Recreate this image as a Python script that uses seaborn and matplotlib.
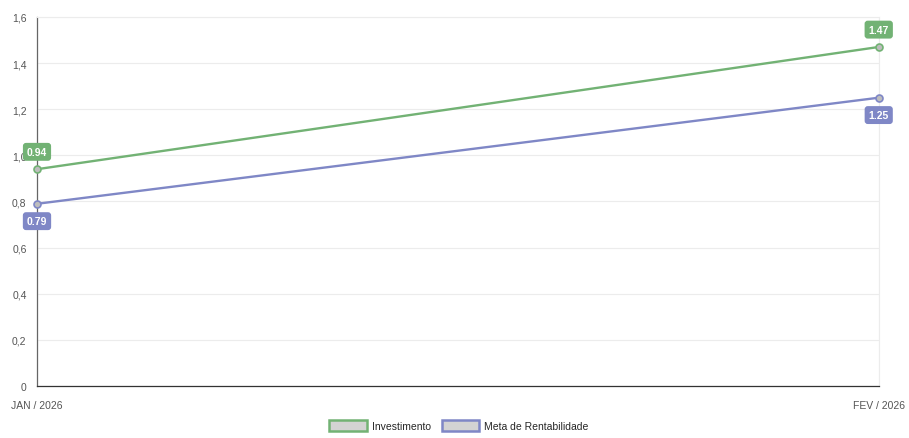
import pandas as pd
import seaborn as sns
import matplotlib.pyplot as plt
from matplotlib.patches import Patch

# -----------------------------
# Data
# -----------------------------
months = ["JAN / 2026", "FEV / 2026"]
investimento = [0.94, 1.47]
meta_rentabilidade = [0.79, 1.25]
y_ticks = [0, 0.2, 0.4, 0.6, 0.8, 1.0, 1.2, 1.4, 1.6]

series_names = ["Investimento", "Meta de Rentabilidade"]
colors = {"Investimento": "#72b274", "Meta de Rentabilidade": "#7f87c6"}

df = pd.DataFrame({
    "pos": list(range(len(months))) * 2,
    "month": months * 2,
    "value": investimento + meta_rentabilidade,
    "serie": [series_names[0]] * len(months) + [series_names[1]] * len(months),
})

# -----------------------------
# Plot
# -----------------------------
sns.set_style("white")
plt.rcParams["font.family"] = ["Liberation Sans", "DejaVu Sans"]

fig = plt.figure(figsize=(9.09, 4.39), dpi=100)
ax = fig.add_axes([0.0407, 0.1185, 0.926, 0.8405])

sns.lineplot(data=df, x="pos", y="value", hue="serie", palette=colors,
             linewidth=1.7, marker="o", markersize=5, markerfacecolor="#bdbdbd",
             markeredgewidth=1.2, legend=False, ax=ax)
# marker edge colour per series, do not clip markers at the edges
for line, name in zip(ax.get_lines(), series_names):
    line.set_markeredgecolor(colors[name])
    line.set_clip_on(False)
    line.set_zorder(5)

ax.set_xlim(0, len(months) - 1)
ax.set_ylim(0, 1.6)
ax.set_yticks(y_ticks)
ax.set_yticklabels([f"{t:.1f}".replace(".", ",") if t else "0" for t in y_ticks])
ax.set_xticks(range(len(months)))
ax.set_xticklabels(months)
ax.set_xlabel("")
ax.set_ylabel("")

ax.grid(True, color="#ececec", linewidth=0.8)
ax.tick_params(axis="both", labelsize=7.5, colors="#555555", length=4, width=0.8)
ax.tick_params(axis="x", pad=6)
for side in ["top", "right"]:
    ax.spines[side].set_color("#ececec")
    ax.spines[side].set_linewidth(0.8)
ax.spines["left"].set_color("#666666")
ax.spines["bottom"].set_color("#333333")
ax.spines["left"].set_linewidth(0.9)
ax.spines["bottom"].set_linewidth(0.9)

# data labels
for name, vals, off in [(series_names[0], investimento, 12.5),
                        (series_names[1], meta_rentabilidade, -12.5)]:
    for i, v in enumerate(vals):
        ax.annotate(f"{v:.2f}", (i, v), xytext=(0, off), textcoords="offset points",
                    ha="center", va="center", fontsize=7.5, fontweight="bold",
                    color="white", annotation_clip=False, zorder=6,
                    bbox=dict(boxstyle="round,pad=0.38,rounding_size=0.3",
                              fc=colors[name], ec="none"))

# legend
handles = [Patch(facecolor="#d3d3d3", edgecolor=colors[n], linewidth=1.8, label=n)
           for n in series_names]
fig.legend(handles=handles, loc="lower center", bbox_to_anchor=(0.505, -0.005),
           ncol=2, frameon=False, fontsize=7.5, handlelength=3.6, handleheight=1.2,
           columnspacing=1.0, handletextpad=0.5)

plt.savefig("out.png", dpi=100)
